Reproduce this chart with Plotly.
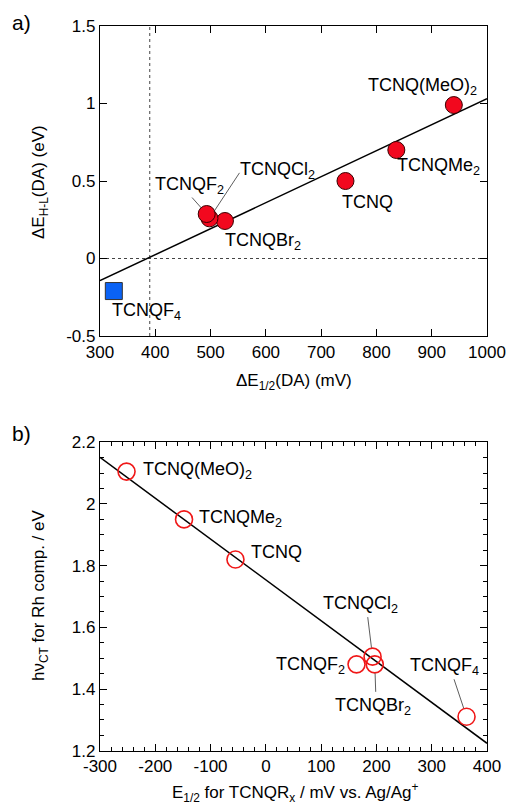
import plotly.graph_objects as go

# ---------------- Data: panel a ----------------
a_names = ["TCNQ(MeO)<sub>2</sub>", "TCNQMe<sub>2</sub>", "TCNQ",
           "TCNQF<sub>2</sub>", "TCNQCl<sub>2</sub>", "TCNQBr<sub>2</sub>"]
a_dE12 = [940, 836, 744, 493, 498, 526]          # mV
a_dEHL = [0.99, 0.70, 0.50, 0.287, 0.259, 0.242]  # eV
a_f4_name = "TCNQF<sub>4</sub>"
a_f4_dE12 = [325]
a_f4_dEHL = [-0.21]
a_fit_x = [300, 1000]
a_fit_y = [-0.143, 1.031]
a_vline_x = 390
a_hline_y = 0

a_xticks = [300, 400, 500, 600, 700, 800, 900, 1000]
a_xticklabels = ["300", "400", "500", "600", "700", "800", "900", "1000"]
a_yticks = [-0.5, 0, 0.5, 1, 1.5]
a_yticklabels = ["-0.5", "0", "0.5", "1", "1.5"]

# ---------------- Data: panel b ----------------
b_names = ["TCNQ(MeO)<sub>2</sub>", "TCNQMe<sub>2</sub>", "TCNQ",
           "TCNQCl<sub>2</sub>", "TCNQF<sub>2</sub>", "TCNQBr<sub>2</sub>",
           "TCNQF<sub>4</sub>"]
b_E12 = [-252, -148, -55, 193, 164, 197, 363]      # mV vs Ag/Ag+
b_hv = [2.105, 1.95, 1.82, 1.505, 1.48, 1.48, 1.31]  # eV
b_fit_x = [-300, 400]
b_fit_y = [2.151, 1.224]

b_xticks = [-300, -200, -100, 0, 100, 200, 300, 400]
b_xticklabels = ["-300", "-200", "-100", "0", "100", "200", "300", "400"]
b_yticks = [1.2, 1.4, 1.6, 1.8, 2.0, 2.2]
b_yticklabels = ["1.2", "1.4", "1.6", "1.8", "2", "2.2"]

# ---------------- Layout geometry ----------------
W, H = 509, 806
FONT = "Liberation Sans, Arial, Helvetica, sans-serif"
xdom = [100 / W, 487 / W]
ydom_a = [(H - 336) / H, (H - 26) / H]
ydom_b = [(H - 750.7) / H, (H - 442.3) / H]

fig = go.Figure()

# Panel a
fig.add_trace(go.Scatter(x=a_fit_x, y=a_fit_y, mode="lines",
                         line=dict(color="black", width=1.5),
                         xaxis="x", yaxis="y", showlegend=False, hoverinfo="skip"))
fig.add_trace(go.Scatter(x=a_dE12[::-1], y=a_dEHL[::-1], mode="markers",
                         marker=dict(size=17, color="#f2081e",
                                     line=dict(color="#3a0000", width=1)),
                         xaxis="x", yaxis="y", showlegend=False))
fig.add_trace(go.Scatter(x=a_f4_dE12, y=a_f4_dEHL, mode="markers",
                         marker=dict(size=17, symbol="square", color="#0a62f5",
                                     line=dict(color="#333333", width=1)),
                         xaxis="x", yaxis="y", showlegend=False))

# Panel b
fig.add_trace(go.Scatter(x=b_fit_x, y=b_fit_y, mode="lines",
                         line=dict(color="black", width=1.5),
                         xaxis="x2", yaxis="y2", showlegend=False, hoverinfo="skip"))
fig.add_trace(go.Scatter(x=b_E12, y=b_hv, mode="markers",
                         marker=dict(size=17, color="rgba(255,255,255,0.0)",
                                     line=dict(color="#f01818", width=1.6)),
                         xaxis="x2", yaxis="y2", showlegend=False))

# Dashed reference lines (panel a)
fig.add_shape(type="line", xref="x", yref="y domain", x0=a_vline_x, x1=a_vline_x,
              y0=0, y1=1, line=dict(color="#444444", width=1, dash="3px,3px"), layer="below")
fig.add_shape(type="line", xref="x domain", yref="y", x0=0, x1=1,
              y0=a_hline_y, y1=a_hline_y,
              line=dict(color="#444444", width=1, dash="3px,3px"), layer="below")

axis_common = dict(showline=True, linecolor="black", linewidth=1.3, mirror="allticks",
                   ticks="inside", tickcolor="black", tickwidth=1.2, showgrid=False,
                   zeroline=False, tickfont=dict(family=FONT, size=17, color="black"),
                   automargin=False)

fig.update_layout(
    width=W, height=H, margin=dict(l=0, r=0, t=0, b=0, autoexpand=False),
    paper_bgcolor="white", plot_bgcolor="white",
    font=dict(family=FONT, color="black"),
    xaxis=dict(domain=xdom, range=[300, 1000], tickvals=a_xticks, ticktext=a_xticklabels,
               ticklen=7, anchor="y", ticklabelstandoff=0, **axis_common),
    yaxis=dict(domain=ydom_a, range=[-0.5, 1.5], tickvals=a_yticks, ticktext=a_yticklabels,
               ticklen=7, anchor="x", ticklabelstandoff=0, **axis_common),
    xaxis2=dict(domain=xdom, range=[-300, 400], tickvals=b_xticks, ticktext=b_xticklabels,
                ticklen=7, anchor="y2", ticklabelstandoff=0,
                minor=dict(dtick=20, tick0=0, ticklen=4, ticks="inside", tickcolor="black",
                           tickwidth=1.2),
                **axis_common),
    yaxis2=dict(domain=ydom_b, range=[1.2, 2.2], tickvals=b_yticks, ticktext=b_yticklabels,
                ticklen=7, anchor="x2", ticklabelstandoff=0,
                minor=dict(dtick=0.05, tick0=0, ticklen=4, ticks="inside", tickcolor="black",
                           tickwidth=1.2),
                **axis_common),
)

LBL = dict(family=FONT, size=18, color="black")
ann = []

# Panel a point labels: (index, xshift, yshift)
a_label_pos = [(0, -31, 19), (1, 42, -17), (2, 22, -21), (3, -17, 29), (4, 68, 48), (5, 38, -21)]
for i, dx, dy in a_label_pos:
    ann.append(dict(x=a_dE12[i], y=a_dEHL[i], xref="x", yref="y", text=a_names[i],
                    showarrow=False, xshift=dx, yshift=dy, font=LBL))
ann.append(dict(x=a_f4_dE12[0], y=a_f4_dEHL[0], xref="x", yref="y", text=a_f4_name,
                showarrow=False, xshift=33, yshift=-20, font=LBL))
# leader lines panel a: (index, tail ax, ay)
for i, ax, ay in [(3, -16, -18), (4, 31, -47)]:
    ann.append(dict(x=a_dE12[i], y=a_dEHL[i], xref="x", yref="y", text="",
                    showarrow=True, arrowhead=0, arrowwidth=0.8, arrowcolor="#333333",
                    ax=ax, ay=ay, standoff=8))

# Panel b point labels: (index, xanchor, xshift, yshift)
b_label_pos = [(0, "left", 14, 1), (1, "left", 13, 1), (2, "left", 14, 7),
               (3, "center", -12, 52), (4, "right", -10, -1), (5, "center", -2, -42),
               (6, "center", -22, 50)]
for i, xa, dx, dy in b_label_pos:
    ann.append(dict(x=b_E12[i], y=b_hv[i], xref="x2", yref="y2", text=b_names[i],
                    showarrow=False, xanchor=xa, xshift=dx, yshift=dy, font=LBL))
# leader lines panel b
for i, ax, ay in [(3, -5, -41), (5, 1, 29), (6, -13, -39)]:
    ann.append(dict(x=b_E12[i], y=b_hv[i], xref="x2", yref="y2", text="",
                    showarrow=True, arrowhead=0, arrowwidth=0.8, arrowcolor="#333333",
                    ax=ax, ay=ay, standoff=9))

TT = dict(family=FONT, size=17, color="black")
CM = dict(xref="paper", yref="paper", showarrow=False, xanchor="center", yanchor="middle")
# Axis titles
ann.append(dict(x=294 / W, y=(H - 382) / H, text="ΔE<sub>1/2</sub>(DA) (mV)", font=TT, **CM))
ann.append(dict(x=40 / W, y=(H - 182) / H, text="ΔE<sub>H-L</sub>(DA) (eV)",
                textangle=-90, font=TT, **CM))
ann.append(dict(x=295 / W, y=(H - 792) / H,
                text="E<sub>1/2</sub> for TCNQR<sub>x</sub> / mV vs. Ag/Ag<sup>+</sup>",
                font=TT, **CM))
ann.append(dict(x=40 / W, y=(H - 596) / H, text="hν<sub>CT</sub> for Rh comp. / eV",
                textangle=-90, font=TT, **CM))
# Panel letters
ann.append(dict(x=21 / W, y=(H - 23) / H, text="a)",
                font=dict(family=FONT, size=21, color="black"), **CM))
ann.append(dict(x=21 / W, y=(H - 433) / H, text="b)",
                font=dict(family=FONT, size=21, color="black"), **CM))

fig.update_layout(annotations=ann)
fig.write_html("out.html", config={"displayModeBar": False},
               post_script="document.body.style.margin='0';document.body.style.padding='0';")
